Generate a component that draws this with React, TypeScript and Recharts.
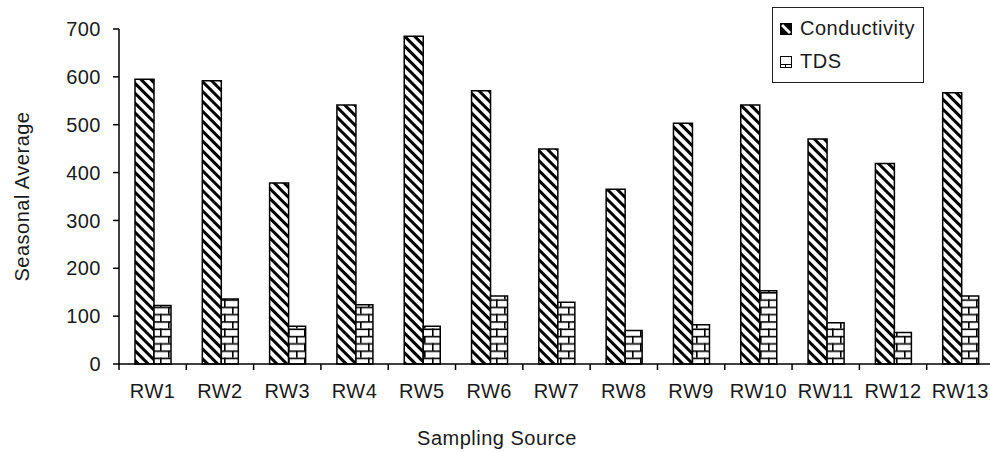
import { Bar, BarChart, XAxis, YAxis } from "recharts"

const sources = ["RW1", "RW2", "RW3", "RW4", "RW5", "RW6", "RW7", "RW8", "RW9", "RW10", "RW11", "RW12", "RW13"]
const conductivity = [595, 592, 378, 541, 685, 571, 449, 365, 503, 541, 470, 419, 567]
const tds = [122, 136, 79, 124, 79, 142, 129, 70, 82, 153, 86, 66, 142]
const yTicks = [0, 100, 200, 300, 400, 500, 600, 700]

const data = sources.map((name, i) => ({
  name,
  conductivity: conductivity[i],
  tds: tds[i],
}))

const FONT = "'Liberation Sans', Arial, sans-serif"
const INK = "#1a1a1a"
const SPACING = 0.5
const TICK_SIZE = 6
const TICK_MARGIN = 14
const tickStyle = { fill: INK, fontSize: 20, fontFamily: FONT, letterSpacing: SPACING }

// label under each category plus a tick mark on the left edge of its band
function CategoryTick(props: any) {
  const { x, y, payload } = props
  const half = payload?.offset ?? 0
  const axisY = y - TICK_SIZE - TICK_MARGIN
  return (
    <g>
      <line
        x1={x - half}
        x2={x - half}
        y1={axisY}
        y2={axisY + TICK_SIZE}
        stroke="#000"
        strokeWidth={1.5}
      />
      <text
        x={x}
        y={y}
        dy="0.71em"
        textAnchor="middle"
        fill={INK}
        fontSize={20}
        fontFamily={FONT}
        letterSpacing={SPACING}
      >
        {payload.value}
      </text>
    </g>
  )
}

function YTitle(props: any) {
  const vb = props.viewBox
  const cx = vb.x + 22
  const cy = vb.y + vb.height / 2
  return (
    <text
      x={cx}
      y={cy}
      transform={`rotate(-90, ${cx}, ${cy})`}
      textAnchor="middle"
      dominantBaseline="central"
      fill={INK}
      fontSize={20}
      fontFamily={FONT}
      letterSpacing={SPACING}
    >
      Seasonal Average
    </text>
  )
}

function XTitle(props: any) {
  const vb = props.viewBox
  return (
    <text
      x={497}
      y={vb.y + 74}
      textAnchor="middle"
      dominantBaseline="central"
      fill={INK}
      fontSize={20}
      fontFamily={FONT}
      letterSpacing={SPACING}
    >
      Sampling Source
    </text>
  )
}

function LegendBox() {
  const row = { display: "flex", alignItems: "center", height: 33 }
  const label = { fontFamily: FONT, fontSize: 20, color: INK, marginLeft: 8, letterSpacing: SPACING }
  return (
    <div
      style={{
        position: "absolute",
        left: 772,
        top: 7,
        width: 152,
        height: 76,
        border: "1px solid #222",
        background: "#fff",
        boxSizing: "border-box",
        padding: "4px 0 0 7px",
      }}
    >
      <div style={row}>
        <svg width={12} height={12}>
          <rect x={0.5} y={0.5} width={11} height={11} fill="#000" stroke="#000" />
          <polygon points="1,3 3,1 11,9 9,11" fill="#fff" />
        </svg>
        <span style={label}>Conductivity</span>
      </div>
      <div style={row}>
        <svg width={12} height={12}>
          <rect x={0.5} y={0.5} width={11} height={11} fill="#fff" stroke="#000" />
          <line x1={1} y1={8.5} x2={11} y2={8.5} stroke="#000" />
          <line x1={5.5} y1={8.5} x2={5.5} y2={11} stroke="#000" />
        </svg>
        <span style={label}>TDS</span>
      </div>
    </div>
  )
}

export default function App() {
  return (
    <div
      style={{
        position: "fixed",
        left: 0,
        top: 0,
        width: 990,
        height: 452,
        overflow: "hidden",
        background: "#fff",
      }}
    >
      <BarChart
        width={1000}
        height={452}
        data={data}
        margin={{ top: 29, right: 6, bottom: 0, left: 0 }}
        barGap={0}
      >
        <defs>
          <pattern
            id="diagHatch"
            patternUnits="userSpaceOnUse"
            width={7}
            height={7}
            patternTransform="rotate(-45)"
          >
            <rect width={7} height={7} fill="#fff" />
            <rect width={3} height={7} fill="#000" />
          </pattern>
          <pattern id="brick" patternUnits="userSpaceOnUse" width={16} height={14.6}>
            <rect width={16} height={14.6} fill="#fff" />
            <rect x={0} y={0} width={16} height={1.6} fill="#000" />
            <rect x={0} y={7.3} width={16} height={1.6} fill="#000" />
            <rect x={8} y={0} width={1.6} height={7.3} fill="#000" />
            <rect x={0} y={7.3} width={1.6} height={7.3} fill="#000" />
          </pattern>
        </defs>
        <XAxis
          dataKey="name"
          interval={0}
          axisLine={{ stroke: "#000", strokeWidth: 1.5 }}
          tickLine={false}
          tickSize={TICK_SIZE}
          tickMargin={TICK_MARGIN}
          height={88}
          tick={<CategoryTick />}
          label={<XTitle />}
        />
        <YAxis
          type="number"
          domain={[0, 700]}
          ticks={yTicks}
          interval={0}
          width={119}
          tickSize={6}
          tickMargin={12}
          tick={tickStyle}
          axisLine={{ stroke: "#000", strokeWidth: 1.5 }}
          tickLine={{ stroke: "#000", strokeWidth: 1.5 }}
          label={<YTitle />}
        />
        <Bar
          dataKey="conductivity"
          barSize={19}
          fill="url(#diagHatch)"
          stroke="#000"
          strokeWidth={1.5}
          isAnimationActive={false}
        />
        <Bar
          dataKey="tds"
          barSize={17}
          fill="url(#brick)"
          stroke="#000"
          strokeWidth={1.5}
          isAnimationActive={false}
        />
      </BarChart>
      <LegendBox />
    </div>
  )
}
